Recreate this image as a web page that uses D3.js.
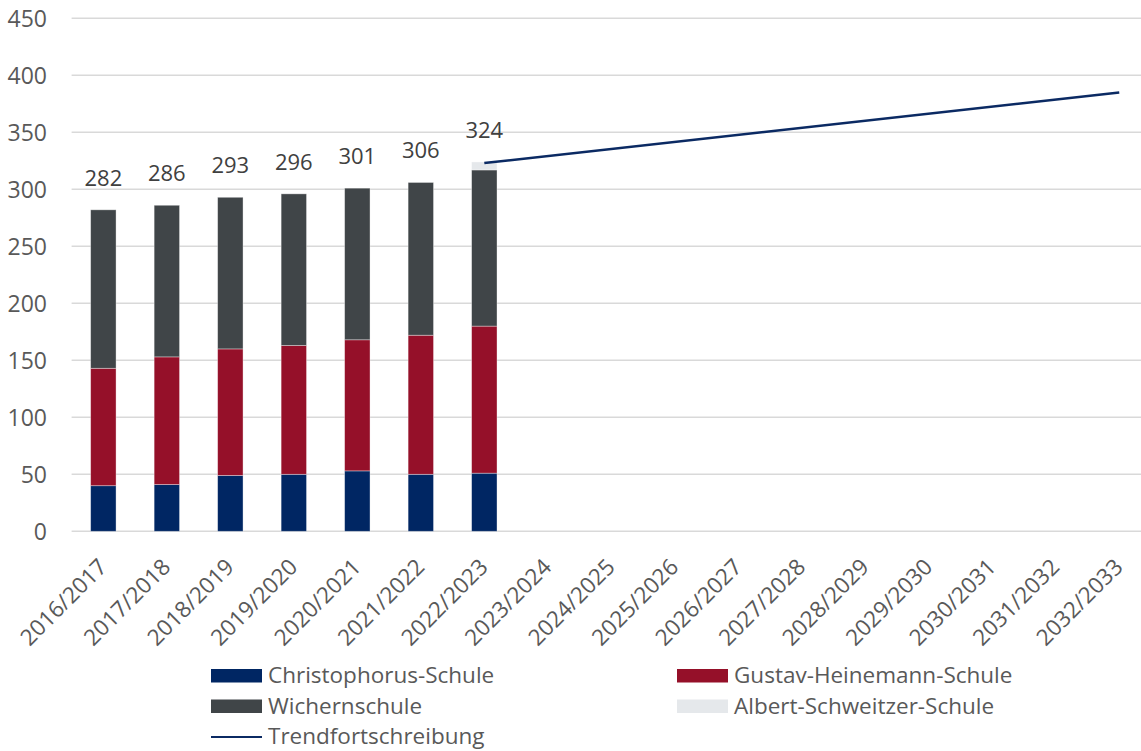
<!DOCTYPE html>
<html>
<head>
<meta charset="utf-8">
<script src="https://cdn.jsdelivr.net/npm/d3@7"></script>
<style>
  html, body { margin: 0; padding: 0; background: #fff; }
  svg { display: block; }
  text { font-family: "Open Sans", "Noto Sans", sans-serif; }
</style>
</head>
<body>
<svg id="chart" width="1141" height="751"></svg>
<script>
// ---- data ----
const categories = ["2016/2017","2017/2018","2018/2019","2019/2020","2020/2021","2021/2022","2022/2023",
  "2023/2024","2024/2025","2025/2026","2026/2027","2027/2028","2028/2029","2029/2030","2030/2031","2031/2032","2032/2033"];
const christophorus = [40, 41, 49, 50, 53, 50, 51];
const gustavHeinemann = [103, 112, 111, 113, 115, 122, 129];
const wichern = [139, 133, 133, 133, 133, 134, 137];
const albertSchweitzer = [0, 0, 0, 0, 0, 0, 7];
const totals = [282, 286, 293, 296, 301, 306, 324];
const trendCategories = ["2022/2023", "2032/2033"];
const trendValues = [323, 385];
const yTicks = [0, 50, 100, 150, 200, 250, 300, 350, 400, 450];

const seriesNames = ["Christophorus-Schule","Gustav-Heinemann-Schule","Wichernschule","Albert-Schweitzer-Schule"];
const seriesValues = [christophorus, gustavHeinemann, wichern, albertSchweitzer];
const colors = ["#002663", "#951029", "#404548", "#e5e8eb"];
const trendColor = "#0b2a63";

// ---- layout ----
const svg = d3.select("#chart");
const plotLeft = 71.6, plotRight = 1151, y0 = 531.3, yTop = 18.3;

const x = d3.scaleBand().domain(categories).range([plotLeft, plotRight]).paddingInner(0.6).paddingOuter(0.3);
const y = d3.scaleLinear().domain([0, 450]).range([y0, yTop]);

// gridlines
svg.append("g").selectAll("line").data(yTicks).join("line")
  .attr("x1", plotLeft).attr("x2", plotRight)
  .attr("y1", d => y(d)).attr("y2", d => y(d))
  .attr("stroke", "#d9d9d9").attr("stroke-width", 1.5);

// y axis labels
const yAxis = d3.axisLeft(y).tickValues(yTicks).tickSize(0).tickPadding(0);
const gy = svg.append("g").attr("transform", "translate(47,0)").call(yAxis);
gy.select(".domain").remove();
gy.selectAll("text").attr("font-size", 23).attr("fill", "#595959")
  .attr("font-family", "'Open Sans', sans-serif").attr("dy", "0.35em");

// stacked bars
const rows = categories.slice(0, christophorus.length).map((c, i) => {
  const r = { cat: c };
  seriesNames.forEach((s, k) => r[s] = seriesValues[k][i]);
  return r;
});
const stack = d3.stack().keys(seriesNames)(rows);
svg.append("g").selectAll("g").data(stack).join("g")
  .attr("fill", (d, i) => colors[i])
  .selectAll("rect").data(d => d.filter(p => p[1] - p[0] > 0)).join("rect")
  .attr("x", d => x(d.data.cat))
  .attr("width", x.bandwidth())
  .attr("y", d => y(d[1]))
  .attr("height", d => y(d[0]) - y(d[1]))
  .attr("stroke", "rgba(255,255,255,0.45)").attr("stroke-width", 0.8);

// data labels
svg.append("g").selectAll("text").data(totals).join("text")
  .attr("x", (d, i) => x(categories[i]) + x.bandwidth() / 2)
  .attr("y", d => y(d) - 24)
  .attr("text-anchor", "middle")
  .attr("font-size", 22).attr("fill", "#404040")
  .text(d => d);

// trend line
const line = d3.line().x(d => x(d[0]) + x.bandwidth() / 2).y(d => y(d[1]));
svg.append("path").datum(trendCategories.map((c, i) => [c, trendValues[i]]))
  .attr("d", line).attr("fill", "none").attr("stroke", trendColor).attr("stroke-width", 2.5);

// x axis labels
const xAxis = d3.axisBottom(x).tickSize(0).tickPadding(0);
const gx = svg.append("g").attr("transform", `translate(0,${y0})`).call(xAxis);
gx.select(".domain").remove();
gx.selectAll(".tick text")
  .attr("font-size", 22.5).attr("fill", "#595959").attr("font-family", "'Open Sans', sans-serif")
  .attr("text-anchor", "end")
  .attr("dy", null).attr("y", 0)
  .attr("transform", "translate(5,37) rotate(-45)");

// legend
const legendItems = [
  { name: "Christophorus-Schule", color: colors[0], type: "rect", x: 211, y: 676 },
  { name: "Gustav-Heinemann-Schule", color: colors[1], type: "rect", x: 677, y: 676 },
  { name: "Wichernschule", color: colors[2], type: "rect", x: 211, y: 706.5 },
  { name: "Albert-Schweitzer-Schule", color: colors[3], type: "rect", x: 677, y: 706.5 },
  { name: "Trendfortschreibung", color: trendColor, type: "line", x: 211, y: 737 }
];
const lg = svg.append("g").selectAll("g").data(legendItems).join("g")
  .attr("transform", d => `translate(${d.x},${d.y})`);
lg.filter(d => d.type === "rect").append("rect")
  .attr("x", 0).attr("y", -7).attr("width", 51).attr("height", 13.5).attr("fill", d => d.color);
lg.filter(d => d.type === "line").append("line")
  .attr("x1", 0).attr("x2", 51).attr("y1", 0).attr("y2", 0)
  .attr("stroke", d => d.color).attr("stroke-width", 2.2);
lg.append("text").attr("x", 57).attr("y", 0).attr("dy", "0.33em")
  .attr("font-size", 22.5).attr("fill", "#595959").text(d => d.name);
</script>
</body>
</html>
